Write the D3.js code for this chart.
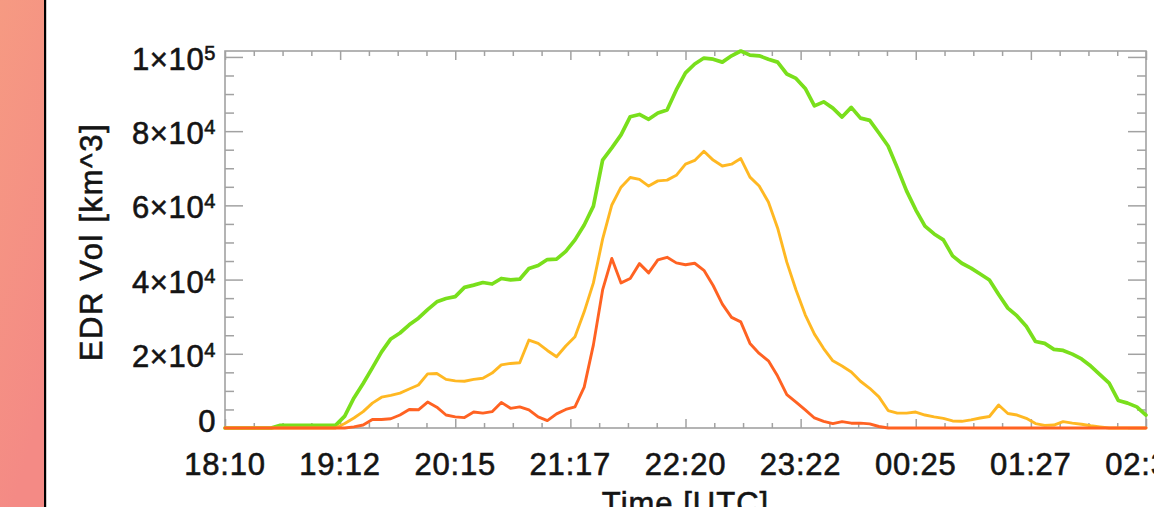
<!DOCTYPE html>
<html>
<head>
<meta charset="utf-8">
<script src="https://cdn.jsdelivr.net/npm/d3@7"></script>
<style>
  html, body { margin: 0; padding: 0; background: #fff; overflow: hidden; }
  svg { display: block; }
  text { font-family: "Liberation Sans", Arial, Helvetica, sans-serif; fill: #141414; stroke: #141414; stroke-width: 0.6px; }
</style>
</head>
<body>
<svg id="chart" width="1154" height="507"></svg>
<script>
// Sampling: one value every 5 minutes from 18:10 to 02:30 UTC (500 min)
const sampleStepMin = 5;
const spanMin = 500;

// Axis ticks
const xTickLabels = ["18:10", "19:12", "20:15", "21:17", "22:20", "23:22", "00:25", "01:27", "02:30"];
const yTickValues = [0, 20000, 40000, 60000, 80000, 100000];
const yTickMantissa = ["0", "2", "4", "6", "8", "1"];
const yTickExponent = [null, "4", "4", "4", "4", "5"];

// EDR volume [km^3] per threshold class
const volGreen = [
  0, 0, 0, 0, 0, 0, 700, 700, 700, 700,
  700, 700, 700, 3200, 8100, 12000, 16200, 20500, 24000, 25600,
  27800, 29600, 31900, 34000, 34900, 35400, 37900, 38500, 39200, 38800,
  40300, 39900, 40100, 43000, 43800, 45400, 45500, 47600, 50700, 54700,
  59800, 72200, 75500, 79000, 83900, 84500, 83200, 84900, 85700, 91100,
  95700, 98100, 99700, 99400, 98600, 100300, 101600, 100500, 100300, 99400,
  98600, 95400, 94200, 91500, 86800, 87900, 86200, 83800, 86400, 83500,
  82900, 79500, 76000, 70100, 63900, 58800, 54400, 52300, 50700, 46400,
  44400, 43100, 41500, 39900, 36000, 32300, 30200, 27400, 23300, 22800,
  21200, 20900, 19900, 18600, 16700, 14400, 12100, 7400, 6700, 5700,
  3500
];
const volYellow = [
  0, 0, 0, 0, 0, 0, 0, 0, 0, 0,
  0, 0, 0, 1200, 2700, 4400, 6700, 8300, 8800, 9400,
  10500, 11600, 14600, 14700, 13100, 12700, 12600, 13100, 13400, 14800,
  17000, 17400, 17600, 23700, 22800, 20900, 19200, 22100, 24600, 31300,
  39100, 50900, 60100, 64900, 67500, 67000, 65200, 66600, 66800, 68100,
  71100, 72100, 74600, 72200, 70600, 71100, 72600, 67600, 65200, 60900,
  53900, 44700, 37200, 30500, 25300, 21400, 18100, 16700, 15100, 12600,
  10700, 8400, 4700, 4000, 4000, 4300, 3500, 3000, 2600, 1900,
  1800, 2200, 2700, 3100, 6200, 3900, 3500, 2600, 1200, 700,
  800, 1700, 1300, 1000, 600, 300, 0, 0, 0, 0,
  0
];
const volRed = [
  0, 0, 0, 0, 0, 0, 0, 0, 0, 0,
  0, 0, 0, 0, 300, 800, 2300, 2300, 2500, 3500,
  5000, 4900, 7000, 5600, 3500, 3000, 2800, 4300, 4000, 4400,
  6900, 5300, 5700, 4900, 3000, 2000, 3800, 5000, 5700, 11000,
  22400, 37200, 45700, 39100, 40300, 44300, 41800, 45300, 46000, 44500,
  44000, 44400, 42500, 38400, 33400, 29800, 28600, 22800, 20100, 18100,
  14000, 9000, 7000, 4900, 2700, 1800, 1200, 1700, 1300, 1300,
  1100, 400, 0, 0, 0, 0, 0, 0, 0, 0,
  0, 0, 0, 0, 0, 0, 0, 0, 0, 0,
  0, 0, 0, 0, 0, 0, 0, 0, 0, 0,
  0
];

const seriesList = [
  { values: volGreen,  color: "#79df1b", width: 3.7 },
  { values: volYellow, color: "#ffb824", width: 2.9 },
  { values: volRed,    color: "#ff6222", width: 2.9 }
];

const W = 1154, H = 507;
const plot = { left: 225, right: 1146, top: 51, bottom: 428 };
const axisGray = "#a2a2a2";

const svg = d3.select("#chart");

// Side strip on the left edge
const defs = svg.append("defs");
const grad = defs.append("linearGradient")
  .attr("id", "stripGrad").attr("x1", 0).attr("y1", 0).attr("x2", 0.3).attr("y2", 1);
grad.append("stop").attr("offset", 0).attr("stop-color", "#f69a82");
grad.append("stop").attr("offset", 1).attr("stop-color", "#f48a85");
defs.append("filter").attr("id", "soft")
  .append("feGaussianBlur").attr("stdDeviation", 0.45);
svg.append("rect").attr("x", 0).attr("y", 0).attr("width", 44).attr("height", H).attr("fill", "url(#stripGrad)");
svg.append("rect").attr("x", 44).attr("y", 0).attr("width", 2.2).attr("height", H).attr("fill", "#000");

// Scales
const x = d3.scaleLinear().domain([0, spanMin]).range([plot.left, plot.right]);
const y = d3.scaleLinear().domain([0, d3.max(volGreen)]).range([plot.bottom, plot.top]);

const sampleT = volGreen.map((_, i) => i * sampleStepMin);
const tickStep = spanMin / (xTickLabels.length - 1);
const xMajor = xTickLabels.map((_, i) => i * tickStep);
const xMinor = d3.range(0, spanMin + 0.01, tickStep / 4).filter(v => !xMajor.some(m => Math.abs(m - v) < 1e-6));
const yMinor = d3.range(0, d3.max(volGreen), 5000).filter(v => v % 20000 !== 0);

// Ticks on all four sides, pointing inward
function tickAxis(gen, values, size, tx, ty) {
  const g = svg.append("g").attr("transform", `translate(${tx},${ty})`)
    .call(gen.tickValues(values).tickSize(-size).tickSizeOuter(0).tickFormat(""));
  g.select(".domain").remove();
  g.selectAll(".tick line").attr("stroke", axisGray).attr("stroke-width", 1.5);
  return g;
}
tickAxis(d3.axisBottom(x), xMajor, 9, 0, plot.bottom);
tickAxis(d3.axisBottom(x), xMinor, 5, 0, plot.bottom);
tickAxis(d3.axisTop(x), xMajor, 9, 0, plot.top);
tickAxis(d3.axisTop(x), xMinor, 5, 0, plot.top);
tickAxis(d3.axisLeft(y), yTickValues, 18, plot.left, 0);
tickAxis(d3.axisLeft(y), yMinor, 9, plot.left, 0);
tickAxis(d3.axisRight(y), yTickValues, 18, plot.right, 0);
tickAxis(d3.axisRight(y), yMinor, 9, plot.right, 0);

// Plot frame
svg.append("rect")
  .attr("x", plot.left).attr("y", plot.top)
  .attr("width", plot.right - plot.left).attr("height", plot.bottom - plot.top)
  .attr("fill", "none").attr("stroke", axisGray).attr("stroke-width", 1.6);

// Series lines
const line = d3.line().x((d, i) => x(sampleT[i])).y(d => y(d));
svg.append("g").attr("filter", "url(#soft)")
  .selectAll("path").data(seriesList).join("path")
  .attr("d", s => line(s.values))
  .attr("fill", "none")
  .attr("stroke", s => s.color)
  .attr("stroke-width", s => s.width)
  .attr("stroke-linejoin", "round")
  .attr("stroke-linecap", "round");

// X tick labels
svg.append("g").selectAll("text").data(xTickLabels).join("text")
  .attr("x", (d, i) => x(xMajor[i]))
  .attr("y", 475)
  .attr("text-anchor", "middle")
  .attr("font-size", 31)
  .attr("letter-spacing", 0.8)
  .text(d => d);

// Y tick labels with powers of ten
const yLab = svg.append("g").selectAll("text").data(yTickValues).join("text")
  .attr("x", 216)
  .attr("y", v => Math.min(y(v) + 13, plot.bottom + 3.5))
  .attr("text-anchor", "end")
  .attr("font-size", 31)
  .attr("letter-spacing", 0.6);
yLab.each(function(v, i) {
  const t = d3.select(this);
  if (yTickExponent[i] === null) {
    t.text(yTickMantissa[i]);
  } else {
    t.append("tspan").text(yTickMantissa[i] + "\u00d710");
    t.append("tspan").attr("dy", -10).attr("font-size", 20).text(yTickExponent[i]);
  }
});

// Axis titles
svg.append("text")
  .attr("transform", "translate(91,242) rotate(-90)")
  .attr("text-anchor", "middle")
  .attr("dominant-baseline", "central")
  .attr("font-size", 31)
  .attr("letter-spacing", 1.6)
  .text("EDR Vol [km^3]");

svg.append("text")
  .attr("x", (plot.left + plot.right) / 2)
  .attr("y", 514)
  .attr("text-anchor", "middle")
  .attr("font-size", 31)
  .attr("letter-spacing", 1)
  .text("Time [UTC]");
</script>
</body>
</html>
